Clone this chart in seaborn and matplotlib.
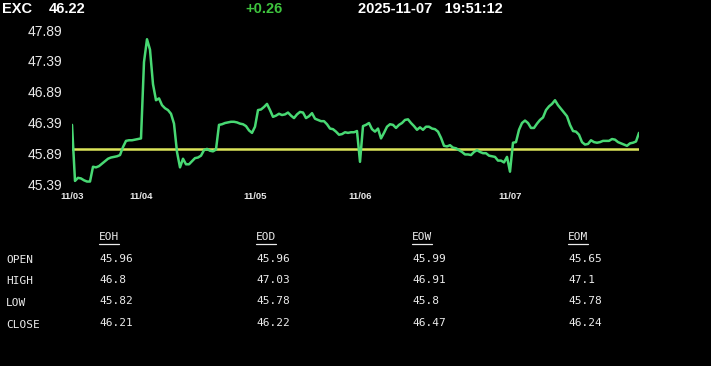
import matplotlib
matplotlib.use("Agg")
import matplotlib.pyplot as plt
from matplotlib.lines import Line2D
import seaborn as sns
import pandas as pd
import numpy as np

# ---------------- data ----------------
ticker = "EXC"
last_price = "46.22"
change = "+0.26"
date_str = "2025-11-07"
time_str = "19:51:12"

ref_open = 45.96  # previous close / reference line

prices = [
    46.35, 45.44, 45.49, 45.48, 45.45, 45.43, 45.43, 45.67, 45.66, 45.68,
    45.72, 45.76, 45.80, 45.82, 45.83, 45.84, 45.86, 45.99, 46.09, 46.10,
    46.10, 46.11, 46.12, 46.13, 47.37, 47.74, 47.57, 47.01, 46.75, 46.78,
    46.67, 46.62, 46.59, 46.53, 46.37, 45.91, 45.66, 45.80, 45.71, 45.71,
    45.76, 45.81, 45.82, 45.85, 45.94, 45.96, 45.93, 45.92, 45.95, 46.35,
    46.36, 46.38, 46.39, 46.40, 46.40, 46.39, 46.37, 46.36, 46.33, 46.26,
    46.22, 46.32, 46.59, 46.60, 46.64, 46.69, 46.59, 46.48, 46.50, 46.53,
    46.51, 46.52, 46.55, 46.50, 46.46, 46.52, 46.56, 46.55, 46.46, 46.49,
    46.54, 46.45, 46.43, 46.41, 46.41, 46.36, 46.29, 46.28, 46.24, 46.19,
    46.20, 46.23, 46.22, 46.23, 46.23, 46.25, 45.75, 46.33, 46.35, 46.38,
    46.28, 46.24, 46.29, 46.13, 46.22, 46.32, 46.36, 46.35, 46.30, 46.35,
    46.38, 46.43, 46.44, 46.38, 46.33, 46.27, 46.31, 46.27, 46.32, 46.32,
    46.29, 46.28, 46.24, 46.14, 46.01, 46.00, 46.02, 45.98, 45.97, 45.94,
    45.91, 45.87, 45.87, 45.86, 45.91, 45.94, 45.91, 45.89, 45.89, 45.85,
    45.84, 45.83, 45.77, 45.77, 45.74, 45.83, 45.59, 46.06, 46.07, 46.27,
    46.38, 46.42, 46.38, 46.30, 46.30, 46.37, 46.43, 46.47, 46.59, 46.65,
    46.69, 46.75, 46.67, 46.61, 46.55, 46.49, 46.35, 46.25, 46.24, 46.19,
    46.07, 46.03, 46.04, 46.10, 46.07, 46.06, 46.07, 46.09, 46.09, 46.09,
    46.12, 46.11, 46.07, 46.05, 46.03, 46.01, 46.05, 46.06, 46.08, 46.22,
]

day_tick_index = [0, 23, 61, 96, 146]
day_tick_labels = ["11/03", "11/04", "11/05", "11/06", "11/07"]
y_ticks = [45.39, 45.89, 46.39, 46.89, 47.39, 47.89]

table_cols = ["EOH", "EOD", "EOW", "EOM"]
table_rows = ["OPEN", "HIGH", "LOW", "CLOSE"]
eoh_vals = ["45.96", "46.8", "45.82", "46.21"]
eod_vals = ["45.96", "47.03", "45.78", "46.22"]
eow_vals = ["45.99", "46.91", "45.8", "46.47"]
eom_vals = ["45.65", "47.1", "45.78", "46.24"]
table_vals = [eoh_vals, eod_vals, eow_vals, eom_vals]

# ---------------- style ----------------
sns.set_style("dark", {"axes.facecolor": "black", "figure.facecolor": "black"})
plt.rcParams["font.family"] = ["Liberation Sans", "DejaVu Sans"]

W, H = 711, 366
fig = plt.figure(figsize=(W / 100, H / 100), dpi=100, facecolor="black")
ax = fig.add_axes([72 / W, 1 - 184 / H, (639 - 72) / W, (184 - 30) / H])
ax.set_facecolor("black")

df = pd.DataFrame({"idx": np.arange(len(prices)), "price": prices})

ax.axhline(ref_open, color="#dce65a", lw=1.8, zorder=2)
sns.lineplot(data=df, x="idx", y="price", ax=ax, color="#48d873", lw=1.8,
             zorder=3, estimator=None)

ax.set_xlim(0, len(prices) - 1)
ax.set_ylim(y_ticks[0], y_ticks[-1])
ax.set_xlabel("")
ax.set_ylabel("")
for s in ax.spines.values():
    s.set_visible(False)
ax.grid(False)

ax.set_yticks(y_ticks)
ax.set_yticklabels([f"{v:.2f}" for v in y_ticks])
ax.tick_params(axis="y", length=0, pad=7, labelsize=10, labelcolor="#e8e8e8")
ax.set_xticks(day_tick_index)
ax.set_xticklabels(day_tick_labels)
ax.tick_params(axis="x", length=3, width=1, color="white", pad=3,
               labelsize=6.8, labelcolor="#e8e8e8", direction="out")
for lbl in ax.get_xticklabels():
    lbl.set_fontweight("bold")

# ---------------- header ----------------
def fy(py):
    return 1 - py / H

hdr = dict(color="white", fontsize=10.5, fontweight="bold", va="center", ha="left")
fig.text(2 / W, fy(9), ticker, **hdr)
fig.text(49 / W, fy(9), last_price, **hdr)
fig.text(245 / W, fy(9), change, **{**hdr, "color": "#3ec43e"})
fig.text(358 / W, fy(9), f"{date_str}   {time_str}", **hdr)

# ---------------- table ----------------
mono = dict(family="DejaVu Sans Mono", fontsize=8, color="#ececec", va="center", ha="left")
col_x = [99, 256, 412, 568]
row_y = [258.5, 280, 301.5, 323.5]

header_texts = []
for cx, name in zip(col_x, table_cols):
    header_texts.append(fig.text(cx / W, fy(237.5), name, **mono))
for ry, name in zip(row_y, table_rows):
    fig.text(6 / W, fy(ry + 1.5), name, **mono)
for cx, vals in zip(col_x, table_vals):
    for ry, v in zip(row_y, vals):
        fig.text(cx / W, fy(ry), v, **mono)

fig.canvas.draw()
r = fig.canvas.get_renderer()
for t in header_texts:
    bb = t.get_window_extent(r)
    yline = (bb.y0 - 1) / H
    fig.add_artist(Line2D([bb.x0 / W, bb.x1 / W], [yline, yline],
                          color="#ececec", lw=0.9, transform=fig.transFigure))

fig.savefig("out.png", dpi=100, facecolor="black")
